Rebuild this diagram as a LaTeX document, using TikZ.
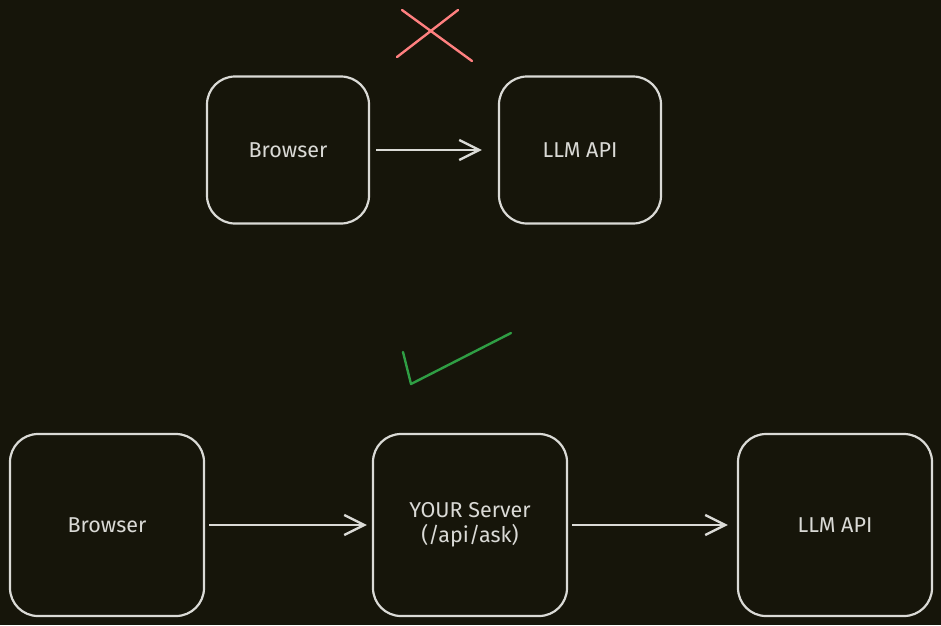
\documentclass[tikz,border=0pt]{standalone}
\usepackage{fontspec}
\setmainfont{Fira Sans}
\usetikzlibrary{positioning,arrows.meta}
\definecolor{bg}{RGB}{22,21,10}
\definecolor{ink}{RGB}{218,218,214}
\definecolor{nored}{RGB}{255,128,128}
\definecolor{okgreen}{RGB}{47,158,68}

\begin{document}
\begin{tikzpicture}[x=1pt,y=-1pt,->,>={Straight Barb[length=20pt,width=20pt,line width=2.4pt]},shorten <=4pt,shorten >=5pt,line width=2.4pt,color=ink,
    small box/.style={rectangle,rounded corners=28pt,draw=ink,line width=2.2pt,minimum width=162pt,minimum height=147pt,font=\fontsize{21.5}{25}\selectfont,text=ink},
    big box/.style={small box,minimum width=194pt,minimum height=182pt,align=center}]

                \fill[bg] (0,0) rectangle (941,625);
                \useasboundingbox (0,0) rectangle (941,625);

                % not like this
                \node[small box] (1) at (288,150) {Browser};
                \node[small box, right of = 1, node distance=292pt] (2) {LLM API};
                \draw[shorten <=6pt, shorten >=16pt] (1) to (2);

                \draw[-, nored, line cap=round, shorten <=0pt, shorten >=0pt] (402,10) -- (472,61);
                \draw[-, nored, line cap=round, shorten <=0pt, shorten >=0pt] (397,57) -- (458,10);

                % like this
                \node[big box] (3) at (107,525) {Browser};
                \node[big box, right of = 3, node distance=363pt] (4) {YOUR Server\\(/api/ask)};
                \node[big box, right of = 4, node distance=365pt] (5) {LLM API};
                \draw (3) to (4);
                \draw[shorten >=9pt] (4) to (5);

                \draw[-, okgreen, line cap=round, line join=round, shorten <=0pt, shorten >=0pt] (403,352) -- (411,384) -- (511,333);

            \end{tikzpicture}
\end{document}
